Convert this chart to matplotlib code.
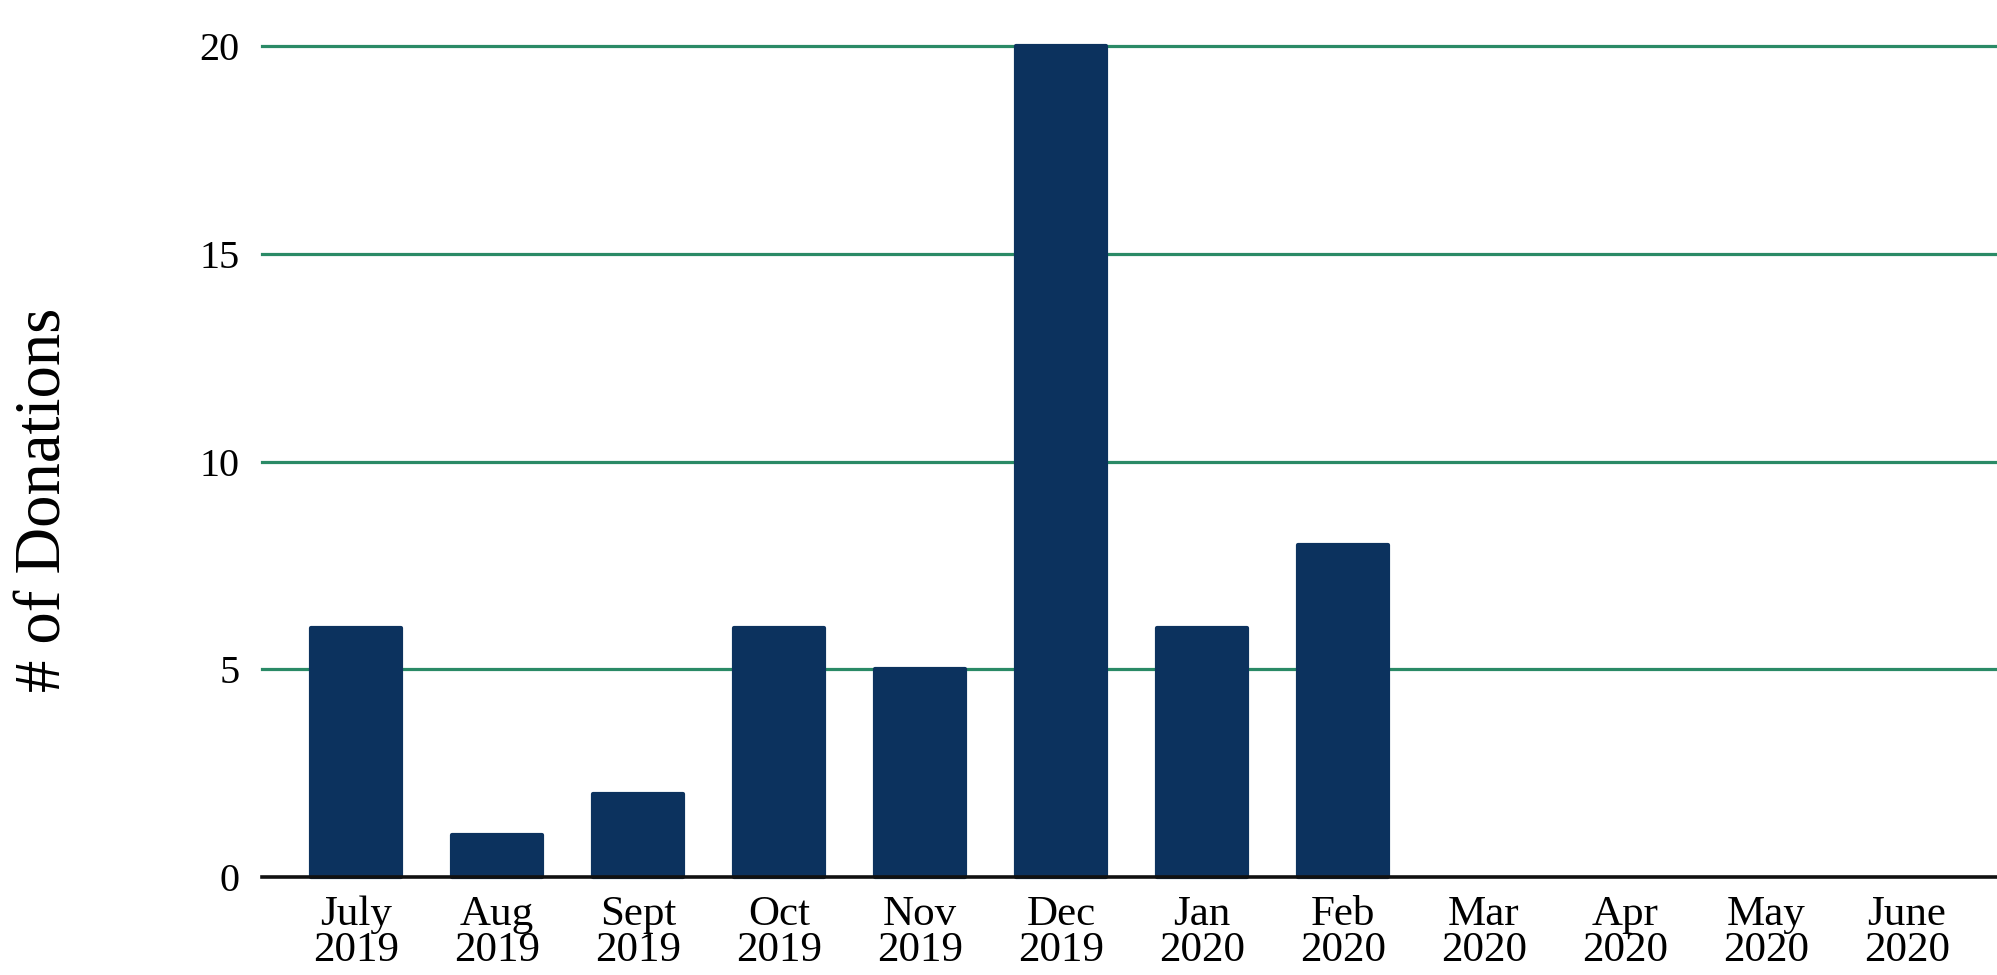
import matplotlib.pyplot as plt
import numpy as np

# data
months = ["July\n2019", "Aug\n2019", "Sept\n2019", "Oct\n2019", "Nov\n2019", "Dec\n2019",
          "Jan\n2020", "Feb\n2020", "Mar\n2020", "Apr\n2020", "May\n2020", "June\n2020"]
donations = [6, 1, 2, 6, 5, 20, 6, 8, 0, 0, 0, 0]
y_ticks = [0, 5, 10, 15, 20]

BAR_COLOR = "#0C325E"
GRID_COLOR = "#2A8A66"

plt.rcParams["font.family"] = ["Liberation Serif", "DejaVu Serif"]

fig = plt.figure(figsize=(19.97, 9.75), dpi=100)
ax = fig.add_axes([0.1312, 0.1005, 0.8688, 0.8523])

x = np.arange(len(months))
# thin edge with round joins softens the bar corners; skip it on empty months
edge_w = [3 if v > 0 else 0 for v in donations]
ax.bar(x, donations, width=0.635, color=BAR_COLOR, edgecolor=BAR_COLOR,
       linewidth=edge_w, joinstyle="round", zorder=3, clip_on=False)

ax.set_xlim(-0.667, 11.64)
ax.set_ylim(0, 20)
ax.set_yticks(y_ticks)
ax.set_xticks(x)
ax.set_xticklabels(months, fontsize=31, linespacing=0.93)
ax.tick_params(axis="y", labelsize=29, length=0, pad=16)
ax.tick_params(axis="x", length=0, pad=13)

# horizontal gridlines (green), black baseline at zero
for t in y_ticks[1:]:
    ax.axhline(t, color=GRID_COLOR, linewidth=2.3, zorder=1, clip_on=False)
ax.axhline(0, color="#111111", linewidth=2.6, zorder=4, clip_on=False)

for side in ["top", "right", "left", "bottom"]:
    ax.spines[side].set_visible(False)

fig.text(0.0225, 0.487, "# of Donations", rotation=90, fontsize=46.5,
         ha="center", va="center")

fig.savefig("out.png", dpi=100, facecolor="white")
